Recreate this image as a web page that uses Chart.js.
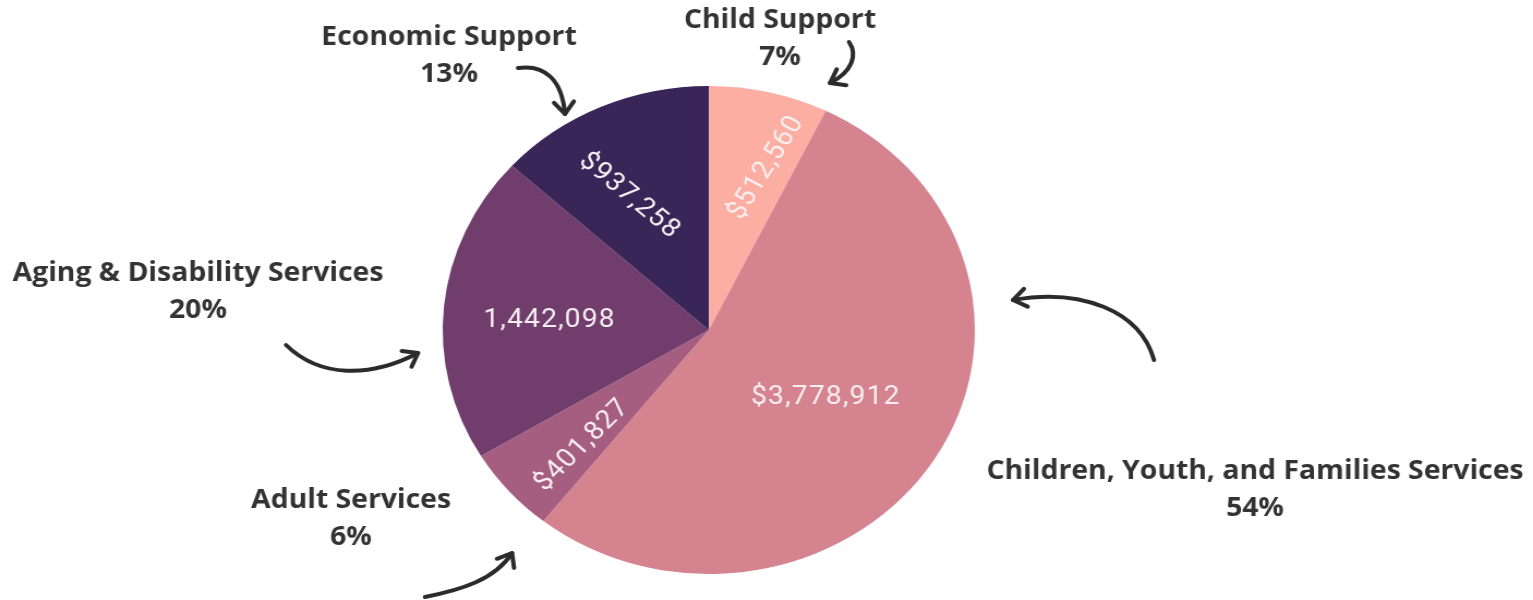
<!DOCTYPE html>
<html>
<head>
<meta charset="utf-8">
<script src="https://cdn.jsdelivr.net/npm/chart.js@4.4.1/dist/chart.umd.min.js"></script>
<style>
    html, body { margin: 0; padding: 0; background: #ffffff; overflow: hidden; }
    #wrap {
        width: 1406px;
        height: 600px;
        transform: scaleX(1.0904);
        transform-origin: 0 0;
    }
</style>
</head>
<body>
<div id="wrap"><canvas id="budgetChart" width="1406" height="600"></canvas></div>
<script>
const categories = ['Child Support', 'Children, Youth, and Families Services', 'Adult Services', 'Aging & Disability Services', 'Economic Support'];
const amounts = [512560, 3778912, 401827, 1442098, 937258];
const amountLabels = ['$512,560', '$3,778,912', '$401,827', '1,442,098', '$937,258'];
const shares = ['7%', '54%', '6%', '20%', '13%'];
const sliceColors = ['#fcaea2', '#d5838f', '#a55d80', '#703d6d', '#3a2558'];

// the page is stretched sideways, so x values below are divided by this
const STRETCH = 1.0904;

// white amounts inside each slice
const sliceLabels = {
    id: 'sliceLabels',
    afterDatasetsDraw(chart, args, opts) {
        const ctx = chart.ctx;
        const arcs = chart.getDatasetMeta(0).data;
        ctx.save();
        ctx.fillStyle = '#f7eff1';
        ctx.font = '26px Roboto';
        ctx.letterSpacing = '1px';
        ctx.textAlign = 'center';
        ctx.textBaseline = 'middle';
        arcs.forEach((arc, i) => {
            const mid = (arc.startAngle + arc.endAngle) / 2 + opts.shift[i] * Math.PI / 180;
            const r = arc.outerRadius * opts.radius[i];
            ctx.save();
            ctx.translate(arc.x + Math.cos(mid) * r, arc.y + Math.sin(mid) * r);
            ctx.rotate(opts.rotation[i] * Math.PI / 180);
            ctx.fillText(amountLabels[i], 0, 0);
            ctx.restore();
        });
        ctx.restore();
    }
};

// category names with share and a hand drawn arrow pointing at the slice
const callouts = {
    id: 'callouts',
    afterDraw(chart, args, opts) {
        const ctx = chart.ctx;
        ctx.save();
        ctx.fillStyle = '#333333';
        ctx.strokeStyle = '#2b2b2b';
        ctx.font = 'bold 26px "Open Sans"';
        ctx.textAlign = 'center';
        ctx.textBaseline = 'middle';
        opts.items.forEach(item => {
            const i = item.index;
            ctx.fillText(categories[i], item.x / STRETCH, item.y);
            ctx.fillText(shares[i], item.x / STRETCH, item.y + 37);

            const p = item.arrow.map(pt => [pt[0] / STRETCH, pt[1]]);
            ctx.lineWidth = 4;
            ctx.lineCap = 'round';
            ctx.lineJoin = 'round';
            ctx.beginPath();
            ctx.moveTo(p[0][0], p[0][1]);
            ctx.bezierCurveTo(p[1][0], p[1][1], p[2][0], p[2][1], p[3][0], p[3][1]);
            ctx.stroke();

            const ang = Math.atan2(p[3][1] - p[2][1], p[3][0] - p[2][0]);
            const len = 15;
            ctx.beginPath();
            ctx.moveTo(p[3][0] - len * Math.cos(ang - 0.65), p[3][1] - len * Math.sin(ang - 0.65));
            ctx.lineTo(p[3][0], p[3][1]);
            ctx.lineTo(p[3][0] - len * Math.cos(ang + 0.65), p[3][1] - len * Math.sin(ang + 0.65));
            ctx.stroke();
        });
        ctx.restore();
    }
};

const myChart = new Chart(document.getElementById('budgetChart'), {
    type: 'pie',
    data: {
        labels: categories,
        datasets: [{
            data: amounts,
            backgroundColor: sliceColors,
            borderWidth: 0
        }]
    },
    options: {
        responsive: false,
        animation: false,
        layout: {
            padding: {top: 86, bottom: 26, left: 300, right: 406}
        },
        plugins: {
            legend: {display: false},
            tooltip: {enabled: false},
            sliceLabels: {
                radius: [0.70, 0.52, 0.67, 0.60, 0.625],
                shift: [5, 0, -3.5, -1.7, -4.7],
                rotation: [-60, 0, -47, 0, 42]
            },
            callouts: {
                items: [
                    {index: 0, x: 780, y: 21, arrow: [[849, 42], [858, 55], [852, 72], [830, 83]]},
                    {index: 1, x: 1255, y: 472, arrow: [[1154, 360], [1140, 310], [1080, 288], [1013, 300]]},
                    {index: 2, x: 351, y: 501, arrow: [[425, 597], [460, 590], [495, 580], [512, 553]]},
                    {index: 3, x: 198, y: 274, arrow: [[286, 345], [320, 378], [370, 378], [418, 353]]},
                    {index: 4, x: 449, y: 38, arrow: [[518, 68], [545, 64], [562, 80], [565, 114]]}
                ]
            }
        }
    },
    plugins: [sliceLabels, callouts]
});
</script>
</body>
</html>
